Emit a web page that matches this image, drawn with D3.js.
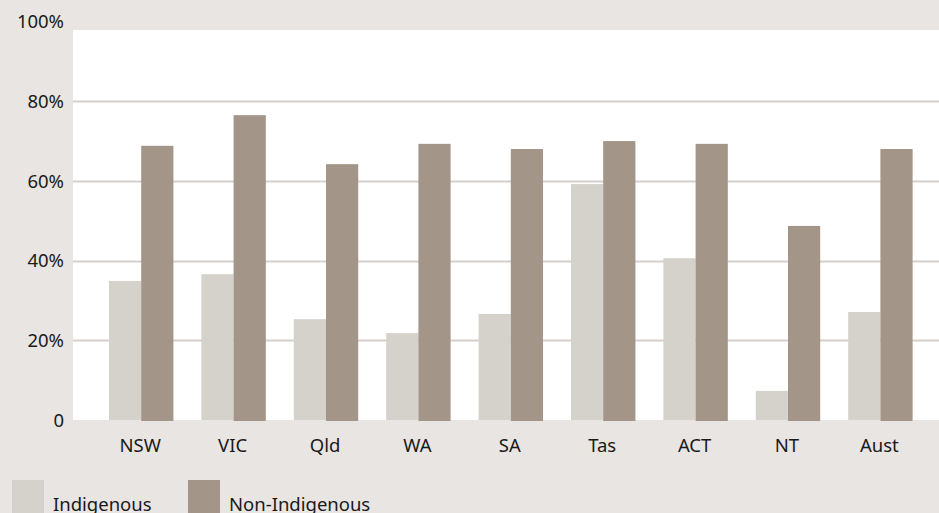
<!DOCTYPE html>
<html>
<head>
<meta charset="utf-8">
<script src="https://cdn.jsdelivr.net/npm/d3@7"></script>
<style>
  body { margin: 0; background: #e8e5e2; }
  svg { display: block; font-family: "Noto Sans", sans-serif; }
</style>
</head>
<body>
<svg width="939" height="513"></svg>
<script>
var categories = ["NSW", "VIC", "Qld", "WA", "SA", "Tas", "ACT", "NT", "Aust"];
var indigenous = [34.9, 36.6, 25.3, 21.8, 26.6, 59.2, 40.6, 7.3, 27.1];
var nonIndigenous = [68.8, 76.5, 64.2, 69.3, 68.0, 70.0, 69.3, 48.7, 68.0];
var seriesNames = ["Indigenous", "Non-Indigenous"];
var yTicks = [0, 20, 40, 60, 80, 100];

function main() {
    var svg = d3.select("svg"),
        width = +svg.attr("width"),
        height = +svg.attr("height");

    var colors = ["#d5d1cb", "#a39587"];
    var fontSize = 18.5;

    // background
    svg.append("rect").attr("width", width).attr("height", height).attr("fill", "#e8e5e2");
    // white plot area (stops short of 100%)
    svg.append("rect")
        .attr("x", 73).attr("y", 30)
        .attr("width", width - 73).attr("height", 420 - 30)
        .attr("fill", "#ffffff");

    var x = d3.scaleBand().domain(categories).range([109, 912.6]).paddingInner(0.303).paddingOuter(0);
    var y = d3.scaleLinear().domain([0, 100]).range([420, 21.5]);
    var xs = d3.scaleBand().domain(seriesNames).range([0, x.bandwidth()]);

    // gridlines
    svg.append("g").selectAll("line")
        .data(yTicks.filter(function(d) { return d > 0 && d < 100; }))
        .enter().append("line")
        .attr("x1", 73).attr("x2", width)
        .attr("y1", function(d) { return Math.round(y(d)) + 0.5; })
        .attr("y2", function(d) { return Math.round(y(d)) + 0.5; })
        .attr("stroke", "#d5d0cb").attr("stroke-width", 2);

    // y labels
    svg.append("g").selectAll("text")
        .data(yTicks)
        .enter().append("text")
        .attr("x", 64)
        .attr("y", function(d) { return y(d); })
        .attr("dy", "0.36em")
        .attr("text-anchor", "end")
        .attr("font-size", fontSize)
        .attr("fill", "#1a1a1a")
        .text(function(d) { return d === 0 ? "0" : d + "%"; });

    var groups = svg.append("g").selectAll("g")
        .data(categories)
        .enter().append("g")
        .attr("transform", function(d) { return "translate(" + x(d) + ",0)"; });

    groups.selectAll("rect")
        .data(function(d, i) {
            return [
                { key: seriesNames[0], value: indigenous[i], c: 0 },
                { key: seriesNames[1], value: nonIndigenous[i], c: 1 }
            ];
        })
        .enter().append("rect")
        .attr("x", function(d) { return xs(d.key); })
        .attr("width", xs.bandwidth())
        .attr("y", function(d) { return y(d.value); })
        .attr("height", function(d) { return y(0) - y(d.value) + (d.c ? 1 : 0); })
        .attr("fill", function(d) { return colors[d.c]; });

    // x labels
    svg.append("g").selectAll("text")
        .data(categories)
        .enter().append("text")
        .attr("x", function(d) { return x(d) + x.bandwidth() / 2 - 1; })
        .attr("y", 452)
        .attr("text-anchor", "middle")
        .attr("font-size", fontSize)
        .attr("fill", "#1a1a1a")
        .text(function(d) { return d; });

    // legend
    var legendX = [12, 188];
    var legend = svg.append("g").selectAll("g")
        .data(seriesNames)
        .enter().append("g")
        .attr("transform", function(d, i) { return "translate(" + legendX[i] + ",480)"; });
    legend.append("rect")
        .attr("width", 32).attr("height", 33)
        .attr("fill", function(d, i) { return colors[i]; });
    legend.append("text")
        .attr("x", 41).attr("y", 31)
        .attr("font-size", fontSize)
        .attr("fill", "#1a1a1a")
        .text(function(d) { return d; });
}
main();
</script>
</body>
</html>
